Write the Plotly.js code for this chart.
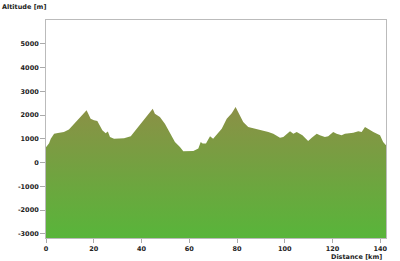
<!DOCTYPE html>
<html>
<head>
<meta charset="utf-8">
<script src="https://cdn.plot.ly/plotly-3.0.1.min.js"></script>
<style>html,body{margin:0;padding:0;background:#fff;}#chart{width:400px;height:261px;}</style>
</head>
<body>
<div id="chart"></div>
<script>
const distanceKm = [0, 1.3, 2, 3.4, 5, 7.5, 9.6, 11, 13.1, 15.2, 17, 18.7, 20.1, 21.5, 23.6, 25, 25.9, 26.8, 28.5, 32.7, 35.5, 38, 40.7, 42.8, 44.7, 45.6, 47.7, 49.8, 51.9, 54, 56.1, 57.5, 61.7, 63.8, 64.8, 65.6, 67, 68.7, 70, 71.7, 73.6, 75.7, 77.8, 79.4, 80.8, 82.6, 84.7, 87.5, 91, 93.1, 95.2, 98, 99.4, 102.2, 103.6, 105, 107.4, 109.8, 111.3, 113.4, 114.7, 116.8, 118.2, 120.3, 121.7, 123.8, 125.2, 128.7, 130.8, 132.2, 133.6, 135, 137.1, 139.9, 141.2, 142.4];
const altitudeM = [650, 820, 1000, 1220, 1250, 1285, 1390, 1550, 1780, 1990, 2200, 1850, 1780, 1750, 1360, 1240, 1310, 1080, 1010, 1030, 1110, 1430, 1780, 2030, 2270, 2060, 1920, 1640, 1220, 870, 660, 480, 490, 590, 870, 800, 800, 1110, 1010, 1220, 1430, 1850, 2080, 2340, 2060, 1710, 1500, 1430, 1360, 1290, 1220, 1050, 1080, 1320, 1220, 1290, 1150, 910, 1050, 1220, 1150, 1080, 1110, 1290, 1220, 1150, 1220, 1260, 1320, 1290, 1500, 1430, 1290, 1150, 870, 730];
const xTicks = [0, 20, 40, 60, 80, 100, 120, 140];
const yTicks = [-3000, -2000, -1000, 0, 1000, 2000, 3000, 4000, 5000];
const yFloor = -3170;
const yCeil = 6000;
const xEnd = distanceKm[distanceKm.length - 1];

const polyX = distanceKm.concat([xEnd, 0]);
const polyY = altitudeM.concat([yFloor, yFloor]);

const font = {family: 'DejaVu Sans', size: 6.5, color: '#222', weight: 'bold'};

const trace = {
  x: polyX, y: polyY, type: 'scatter', mode: 'lines',
  fill: 'toself',
  line: {width: 0, color: '#8a9146'},
  fillgradient: {type: 'vertical', start: yFloor, stop: 2340,
    colorscale: [[0, '#58b53a'], [1, '#8b9046']]},
  hoverinfo: 'skip'
};

const layout = {
  width: 400, height: 261,
  margin: {l: 46, r: 14, t: 20, b: 23},
  paper_bgcolor: '#fff', plot_bgcolor: '#fff',
  showlegend: false,
  font: font,
  xaxis: {range: [0, xEnd], tickvals: xTicks, ticktext: xTicks.map(String),
    showgrid: false, zeroline: false, showline: true, mirror: true,
    linecolor: '#bbb', linewidth: 1, ticks: 'outside', ticklen: 4, tickcolor: '#aaa',
    tickfont: font},
  yaxis: {range: [yFloor, yCeil], tickvals: yTicks, ticktext: yTicks.map(String),
    showgrid: false, zeroline: false, showline: true, mirror: true,
    linecolor: '#bbb', linewidth: 1, ticks: 'outside', ticklen: 5, tickcolor: '#aaa',
    tickfont: font},
  annotations: [
    {text: 'Altitude [m]', xref: 'paper', yref: 'paper', x: -46/340, y: 1 + 13/217,
     xanchor: 'left', yanchor: 'middle', showarrow: false, font: font},
    {text: 'Distance [km]', xref: 'paper', yref: 'paper', x: 1 - 2/340, y: -19/217,
     xanchor: 'right', yanchor: 'middle', showarrow: false, font: font}
  ]
};

Plotly.newPlot('chart', [trace], layout, {displayModeBar: false, staticPlot: true});
</script>
</body>
</html>
